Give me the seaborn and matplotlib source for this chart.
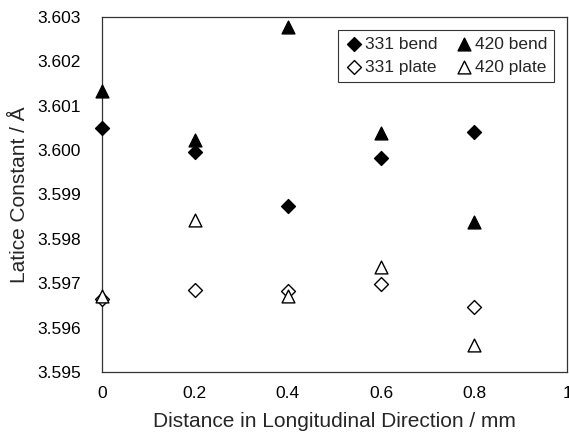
import numpy as np
import pandas as pd
import seaborn as sns
import matplotlib.pyplot as plt

# positions along the sample (mm)
distance = [0, 0.2, 0.4, 0.6, 0.8]

# lattice constants (angstrom)
bend_331 = [3.60050, 3.59996, 3.59874, 3.59982, 3.60040]
bend_420 = [3.60133, 3.60023, 3.60278, 3.60039, 3.59838]
plate_331 = [3.59664, 3.59685, 3.59683, 3.59699, 3.59647]
plate_420 = [3.59672, 3.59843, 3.59672, 3.59737, 3.59561]

# legend goes row by row: bends on top, plates underneath
series_names = ['331 bend', '331 plate', '420 bend', '420 plate']
series_vals = [bend_331, plate_331, bend_420, plate_420]

sns.set_style('white')
plt.rcParams['font.family'] = ['Liberation Sans', 'DejaVu Sans']

fig = plt.figure(figsize=(5.69, 4.32), dpi=100)
ax = fig.add_axes([0.179, 0.139, 0.8175, 0.822])

# marker, face colour, size for each series
looks = {
    '331 bend': ('D', 'black', 50),
    '420 bend': ('^', 'black', 85),
    '331 plate': ('D', 'white', 50),
    '420 plate': ('^', 'white', 85),
}

for name, vals in zip(series_names, series_vals):
    df = pd.DataFrame({'x': distance, 'y': vals})
    mk, fc, sz = looks[name]
    sns.scatterplot(data=df, x='x', y='y', marker=mk, s=sz, color=fc,
                    edgecolor='black', linewidth=1.0, label=name, ax=ax,
                    clip_on=False, zorder=3)

ax.set_xlim(0, 1)
ax.set_ylim(3.595, 3.603)
yt = np.arange(3.595, 3.6031, 0.001)
ax.set_xticks([0, 0.2, 0.4, 0.6, 0.8, 1])
ax.set_xticklabels(['0', '0.2', '0.4', '0.6', '0.8', '1'])
ax.set_yticks(yt)
ax.set_yticklabels([f'{v:.3f}' for v in yt])
ax.tick_params(axis='both', direction='in', length=4, width=0.8,
               labelsize=12.5, colors='black')
ax.tick_params(axis='y', pad=15)
ax.tick_params(axis='x', pad=10)

for sp in ax.spines.values():
    sp.set_color('#333333')
    sp.set_linewidth(0.9)

ax.set_xlabel('Distance in Longitudinal Direction / mm', fontsize=15, labelpad=8)
ax.set_ylabel('Latice Constant / Å', fontsize=15, labelpad=6)

leg = ax.legend(ncol=2, loc='upper right', bbox_to_anchor=(0.984, 0.978),
                fontsize=12.5, frameon=True, fancybox=False, edgecolor='black',
                handletextpad=0.15, columnspacing=1.0, borderpad=0.4,
                labelspacing=0.45, handlelength=1.0, borderaxespad=0.3)
leg.get_frame().set_linewidth(0.8)

fig.savefig('out.png', dpi=100)
